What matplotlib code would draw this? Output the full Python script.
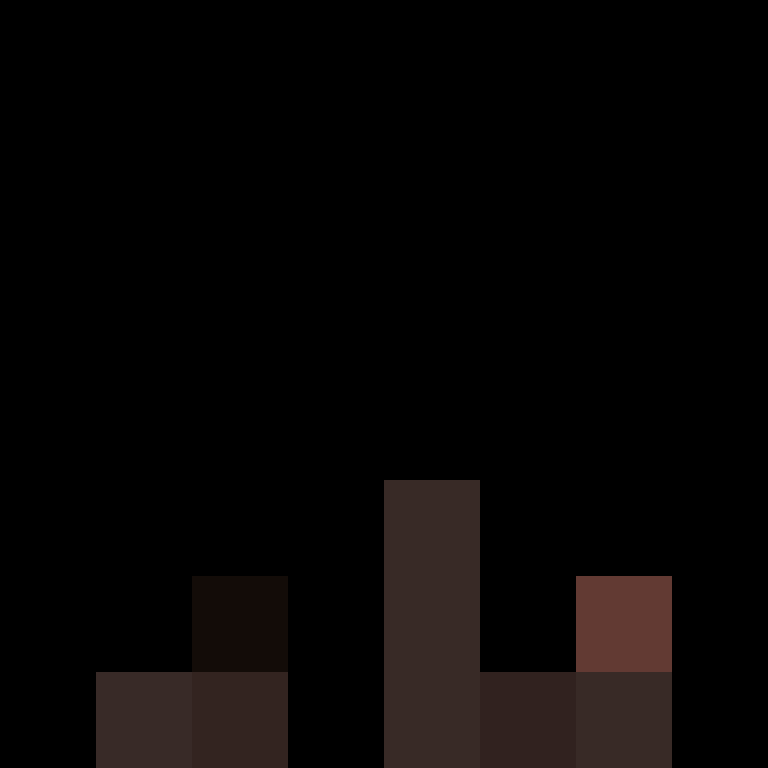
import numpy as np
import matplotlib.pyplot as plt
from matplotlib.colors import to_rgb

# 8x8 grid of coloured cells, row 0 at the top
filas = 8
columnas = 8
fondo = '#000000'

# celdas pintadas: (fila, columna, color)
celda_fila = [7, 6, 7, 5, 6, 7, 7, 6, 7]
celda_col = [1, 2, 2, 4, 4, 4, 5, 6, 6]
celda_color = ['#382a27', '#130c08', '#332420', '#382a26', '#382a26',
               '#382a26', '#31221f', '#623a33', '#382a26']

imagen = np.zeros((filas, columnas, 3))
imagen[:, :] = to_rgb(fondo)
for f, c, col in zip(celda_fila, celda_col, celda_color):
    imagen[f, c] = to_rgb(col)

fig = plt.figure(figsize=(8, 8), dpi=96)
fig.patch.set_facecolor(fondo)
ax = fig.add_axes([0, 0, 1, 1])
ax.imshow(imagen, interpolation='nearest', aspect='auto')
ax.axis('off')
fig.savefig('out.png', dpi=96, facecolor=fondo)
